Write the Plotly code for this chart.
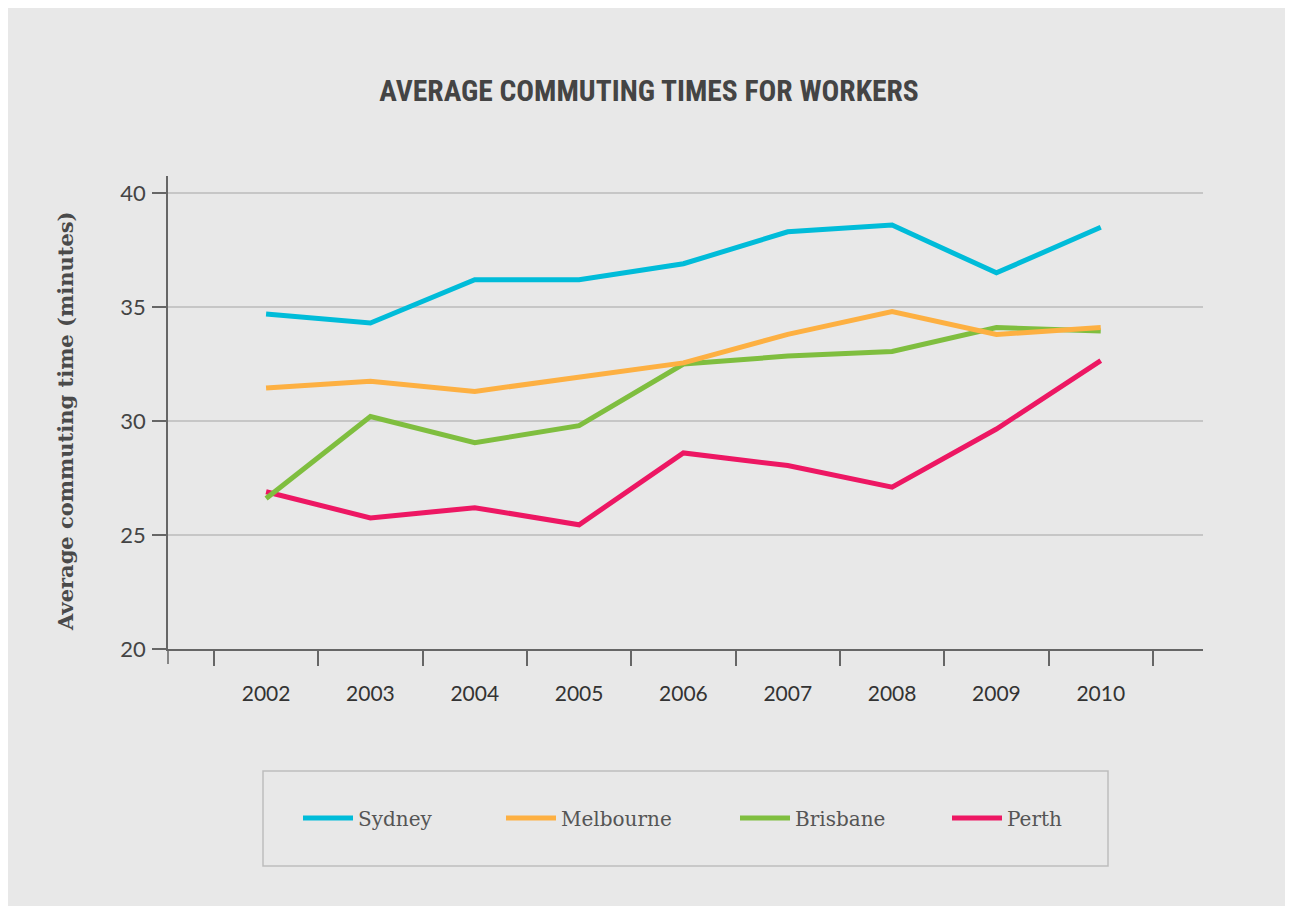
import plotly.graph_objects as go

years = ["2002", "2003", "2004", "2005", "2006", "2007", "2008", "2009", "2010"]
sydney = [34.7, 34.3, 36.2, 36.2, 36.9, 38.3, 38.6, 36.5, 38.5]
melbourne = [31.45, 31.75, 31.3, 31.9, 32.55, 33.8, 34.8, 33.8, 34.1]
brisbane = [26.6, 30.2, 29.05, 29.8, 32.5, 32.85, 33.05, 34.1, 33.95]
perth = [26.9, 25.75, 26.2, 25.45, 28.6, 28.05, 27.1, 29.65, 32.65]
y_ticks = [20, 25, 30, 35, 40]

OFF = 8  # page offset of the figure in the browser
L, R, T, B = 168 - OFF, 1203 - OFF, 176 - OFF, 649 - OFF
W, H = R - L, B - T
def px(x):
    return (x - OFF - L) / W
def py(y):
    return (B - (y - OFF)) / H

# drawing order (bottom to top) with the legend each entry goes into
series = [
    ("Perth", perth, "#ED1763", "legend4", 947),
    ("Brisbane", brisbane, "#7FBE3F", "legend3", 735),
    ("Melbourne", melbourne, "#FDB042", "legend2", 501),
    ("Sydney", sydney, "#00BCD9", "legend", 298),
]

fig = go.Figure()
legends = {}
for name, vals, col, lg, lx in series:
    fig.add_trace(go.Scatter(
        x=years, y=vals, name=name, mode="lines",
        line=dict(color=col, width=5), legend=lg,
    ))
    legends[lg] = dict(
        orientation="h", x=px(lx), xanchor="left", y=py(818), yanchor="middle",
        bgcolor="rgba(0,0,0,0)", borderwidth=0,
        font=dict(family="DejaVu Serif, serif", size=20, color="#555555"),
        itemwidth=50,
    )

shapes = [
    # legend box
    dict(type="rect", xref="paper", yref="paper", x0=px(263), x1=px(1108), y0=py(866), y1=py(771),
         line=dict(color="#BDBDBD", width=1.5), fillcolor="rgba(0,0,0,0)"),
    # y-axis extension below x-axis
    dict(type="line", xref="paper", yref="paper", x0=0, x1=0, y0=0, y1=py(664),
         line=dict(color="#666666", width=1.5)),
]

annotations = [
    dict(text="<b>Average commuting time (minutes)</b>", textangle=-90,
         xref="paper", yref="paper", x=px(65), y=py(421), xanchor="center", yanchor="middle",
         showarrow=False, font=dict(family="DejaVu Serif, serif", size=21, color="#4A4A4A")),
]

fig.update_layout(
    width=1293, height=906,
    paper_bgcolor="#E8E8E8", plot_bgcolor="#E8E8E8",
    margin=dict(l=L, r=1293 - R, t=T, b=906 - B, autoexpand=False),
    title=dict(
        text="<b>AVERAGE COMMUTING TIMES FOR WORKERS</b>",
        font=dict(family="Roboto Condensed, Liberation Sans Narrow, Roboto", size=29.5, color="#444444"),
        x=(649 - OFF) / 1293, xref="container", xanchor="center",
        y=1 - (91 - OFF) / 906, yref="container", yanchor="middle",
    ),
    xaxis=dict(
        type="category", categoryorder="array", categoryarray=years,
        range=[-0.94, 8.98],
        tickson="boundaries", ticks="outside", ticklen=15, tickwidth=1.5, tickcolor="#666666",
        showline=True, linecolor="#666666", linewidth=1.5,
        showgrid=False, zeroline=False,
        tickfont=dict(family="Lato, Open Sans, sans-serif", size=21, color="#333333"),
        ticklabelstandoff=25,
    ),
    yaxis=dict(
        range=[20, 40.75], tickvals=y_ticks,
        ticks="outside", ticklen=14, tickwidth=1.5, tickcolor="#666666",
        showline=True, linecolor="#666666", linewidth=1.5,
        showgrid=True, gridcolor="#C6C6C6", gridwidth=1.5, zeroline=False,
        tickfont=dict(family="Lato, Open Sans, sans-serif", size=22, color="#444444"),
        ticklabelstandoff=2,
    ),
    shapes=shapes,
    annotations=annotations,
    showlegend=True,
    **legends,
)

fig.write_html("out.html")
